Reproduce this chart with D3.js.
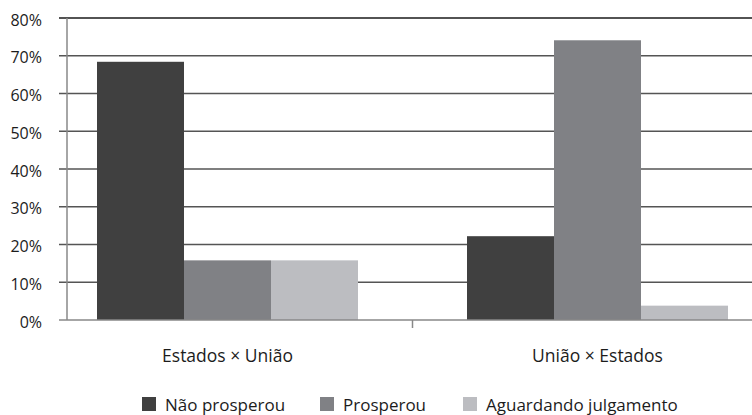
<!DOCTYPE html>
<html>
<head>
<meta charset="utf-8">
<script src="https://cdn.jsdelivr.net/npm/d3@7"></script>
<style>
  body { margin: 0; background: #fff; }
  svg { display: block; font-family: "Open Sans", sans-serif; }
</style>
</head>
<body>
<svg id="chart"></svg>
<script>
const width = 752;
const height = 415;

const categories = ["Estados × União", "União × Estados"];
const series = ["Não prosperou", "Prosperou", "Aguardando julgamento"];
const naoProsperou = [68.4, 22.2];
const prosperou = [15.8, 74.1];
const aguardando = [15.8, 3.8];
const yTicks = [0, 10, 20, 30, 40, 50, 60, 70, 80];
const colors = ["#404040", "#808185", "#bcbdc1"];

const values = [naoProsperou, prosperou, aguardando];

const svg = d3.select("#chart")
  .attr("width", width)
  .attr("height", height);

const plotLeft = 67, plotRight = 757, plotTop = 18, plotBottom = 320;

const y = d3.scaleLinear().domain([0, 80]).range([plotBottom, plotTop]);

// group placement
const x0 = d3.scaleBand()
  .domain(categories)
  .range([97, 728])
  .paddingInner(0.2946)
  .paddingOuter(0);

const x1 = d3.scaleBand()
  .domain(series)
  .range([0, x0.bandwidth()]);

// gridlines
svg.append("g")
  .selectAll("line")
  .data(yTicks.filter(d => d > 0))
  .enter()
  .append("line")
  .attr("x1", plotLeft - 8)
  .attr("x2", plotRight)
  .attr("y1", d => y(d))
  .attr("y2", d => y(d))
  .attr("stroke", d => d === 80 ? "#1a1a1a" : "#555")
  .attr("stroke-width", 1.5);

// bars
categories.forEach((cat, ci) => {
  svg.append("g")
    .selectAll("rect")
    .data(series)
    .enter()
    .append("rect")
    .attr("x", s => x0(cat) + x1(s))
    .attr("width", x1.bandwidth())
    .attr("y", (s, si) => y(values[si][ci]))
    .attr("height", (s, si) => plotBottom - y(values[si][ci]))
    .attr("fill", (s, si) => colors[si]);
});

// y axis line
svg.append("line")
  .attr("x1", plotLeft).attr("x2", plotLeft)
  .attr("y1", plotTop).attr("y2", plotBottom)
  .attr("stroke", "#888").attr("stroke-width", 1.5);

// x axis line
svg.append("line")
  .attr("x1", plotLeft - 8).attr("x2", plotRight)
  .attr("y1", plotBottom).attr("y2", plotBottom)
  .attr("stroke", "#888").attr("stroke-width", 1.5);

// category separator tick
const sep = (x0(categories[0]) + x0.bandwidth() + x0(categories[1])) / 2;
svg.append("line")
  .attr("x1", sep).attr("x2", sep)
  .attr("y1", plotBottom).attr("y2", plotBottom + 8)
  .attr("stroke", "#888").attr("stroke-width", 1.5);

// y labels
svg.append("g")
  .selectAll("text")
  .data(yTicks)
  .enter()
  .append("text")
  .attr("x", 42)
  .attr("y", d => y(d) + 7.5)
  .attr("text-anchor", "end")
  .attr("font-size", 16)
  .attr("fill", "#1c1c1c")
  .text(d => d + "%");

// category labels
svg.append("g")
  .selectAll("text")
  .data(categories)
  .enter()
  .append("text")
  .attr("x", d => x0(d) + x0.bandwidth() / 2)
  .attr("y", 362)
  .attr("text-anchor", "middle")
  .attr("font-size", 17.5)
  .attr("fill", "#1c1c1c")
  .text(d => d);

// legend
const legendX = [142, 320, 463];
const legend = svg.append("g")
  .selectAll("g")
  .data(series)
  .enter()
  .append("g")
  .attr("transform", (d, i) => `translate(${legendX[i]},397)`);

legend.append("rect")
  .attr("width", 14).attr("height", 14)
  .attr("fill", (d, i) => colors[i]);

legend.append("text")
  .attr("x", 23)
  .attr("y", 14)
  .attr("font-size", 17)
  .attr("fill", "#1c1c1c")
  .text(d => d);
</script>
</body>
</html>
